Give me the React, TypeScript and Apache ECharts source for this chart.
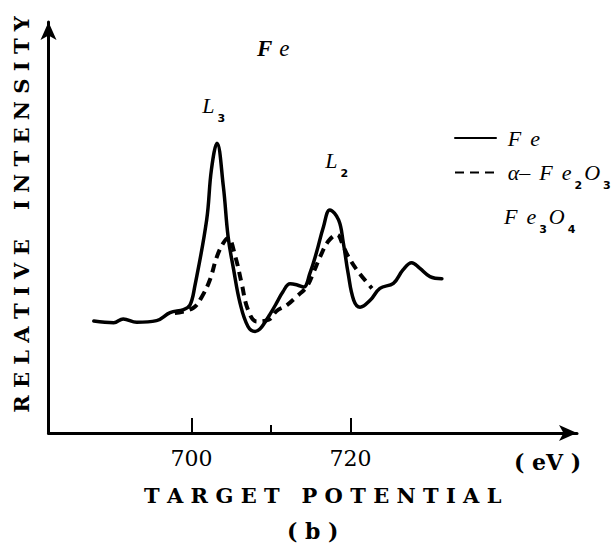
import React, { useEffect, useRef } from 'react';
import * as echarts from 'echarts';

// Fe (solid) spectrum: target potential (eV) vs relative intensity (arb. units)
const feEnergy = [
  687.7, 690.2, 691.4, 693.1, 695.6, 697.3, 699.0, 699.8, 700.4, 701.9, 702.5, 703.2,
  704.0, 704.6, 705.3, 706.1, 707.1, 708.0, 708.6, 709.2, 709.9, 710.7, 711.5, 712.4,
  713.3, 714.1, 714.9, 715.7, 716.6, 717.4, 718.5, 719.1, 719.7, 720.4, 721.2, 722.5,
  723.7, 725.4, 726.6, 727.7, 728.7, 730.0, 731.5,
];
const feIntensity = [
  26.7, 26.3, 27.2, 26.4, 26.8, 28.7, 29.4, 30.5, 34.9, 50.8, 62.8, 69.1,
  58.8, 46.8, 38.9, 31.0, 25.4, 24.2, 24.8, 26.3, 28.4, 31.0, 33.7, 35.6,
  35.3, 34.8, 38.1, 42.9, 49.2, 53.2, 50.8, 45.3, 38.1, 31.7, 30.0, 31.7,
  34.5, 35.7, 38.9, 40.6, 39.3, 37.3, 36.8,
];

// α-Fe2O3 / Fe3O4 (dashed) spectrum
const oxEnergy = [
  697.9, 700.2, 701.3, 702.3, 703.2, 704.0, 704.6, 705.5, 706.3, 707.1, 708.2, 709.7,
  710.7, 712.0, 713.2, 714.5, 715.3, 716.2, 717.2, 718.3, 719.1, 719.6, 720.8, 722.7,
];
const oxIntensity = [
  28.6, 29.8, 32.5, 36.5, 42.1, 45.3, 46.5, 42.1, 35.7, 29.4, 26.6, 27.0,
  29.1, 30.5, 32.5, 34.9, 38.1, 42.1, 45.7, 47.3, 44.5, 42.5, 38.9, 34.5,
];

const seriesNames = ['Fe', 'α-Fe2O3'];
const xLabelValues = [700, 720];
const xMajorTicks = [700, 720];
const xMinorTicks = [710];
const peakLabels = [
  { name: 'L3', coord: [702.9, 78.2] },
  { name: 'L2', coord: [718.4, 64.9] },
];

const SERIF = 'DejaVu Serif';
const ITALIC = 'Liberation Serif';

const richStyles: any = {
  m: { fontFamily: ITALIC, fontStyle: 'italic', fontSize: 22, lineHeight: 24, color: '#000' },
  mg: { fontFamily: ITALIC, fontStyle: 'italic', fontSize: 22, lineHeight: 24, color: '#000', padding: [0, 0, 0, 9] },
  big: { fontFamily: ITALIC, fontStyle: 'italic', fontWeight: 'bold', fontSize: 23, lineHeight: 24, color: '#000' },
  bigg: { fontFamily: ITALIC, fontStyle: 'italic', fontWeight: 'normal', fontSize: 23, lineHeight: 24, color: '#000', padding: [0, 0, 0, 7] },
  s: { fontFamily: 'DejaVu Sans', fontWeight: 'bold', fontSize: 11, lineHeight: 12, color: '#000', padding: [26, 2, 0, 3] },
  p: { fontSize: 10, padding: [0, 0, 0, 4] },
};

const richName: Record<string, string> = {
  'Fe': '{p| }{m|F}{mg|e}',
  'α-Fe2O3': '{p| }{m|α–}{mg|F}{mg|e}{s|2}{m|O}{s|3}',
  'L3': '{m|L}{s|3}',
  'L2': '{m|L}{s|2}',
};

export default function App() {
  const ref = useRef<HTMLDivElement>(null);
  useEffect(() => {
    if (!ref.current) return;
    const chart = echarts.init(ref.current, null, { renderer: 'svg' });
    const feData = feEnergy.map((e, i) => [e, feIntensity[i]]);
    const oxData = oxEnergy.map((e, i) => [e, oxIntensity[i]]);
    const axisLine = {
      show: true,
      symbol: ['none', 'arrow'],
      symbolSize: [12, 18],
      lineStyle: { color: '#000', width: 3 },
    };
    chart.setOption({
      animation: false,
      backgroundColor: '#fff',
      title: {
        text: '{big|F}{bigg|e}',
        left: 252,
        top: 31,
        textStyle: { rich: richStyles },
      },
      grid: { left: 48.5, right: 37, top: 22, bottom: 114 },
      legend: {
        orient: 'vertical',
        left: 454,
        top: 127,
        padding: 0,
        itemGap: 5,
        itemWidth: 41,
        itemHeight: 14,
        data: seriesNames,
        itemStyle: { opacity: 0 },
        formatter: (name: string) => richName[name] || name,
        textStyle: { rich: richStyles },
      },
      xAxis: [
        {
          type: 'value',
          min: 682,
          max: 748.5,
          position: 'bottom',
          axisLine,
          splitLine: { show: false },
          axisTick: {
            show: true,
            inside: true,
            length: 15,
            customValues: xMajorTicks,
            lineStyle: { color: '#000', width: 2 },
          },
          axisLabel: {
            show: true,
            customValues: xLabelValues,
            margin: 14,
            fontFamily: SERIF,
            fontSize: 22,
            color: '#000',
          },
          name: 'T A R G E T   P O T E N T I A L',
          nameLocation: 'middle',
          nameGap: 52,
          nameTextStyle: {
            fontFamily: SERIF,
            fontWeight: 'bold',
            fontSize: 21,
            color: '#000',
            padding: [0, 0, 0, 20],
          },
        },
        {
          type: 'value',
          min: 682,
          max: 748.5,
          position: 'bottom',
          offset: 0,
          axisLine: { show: false },
          splitLine: { show: false },
          axisLabel: { show: false },
          axisTick: {
            show: true,
            inside: true,
            length: 8,
            customValues: xMinorTicks,
            lineStyle: { color: '#000', width: 2 },
          },
        },
      ],
      yAxis: {
        type: 'value',
        min: 0,
        max: 98,
        axisLine,
        splitLine: { show: false },
        axisTick: { show: false },
        axisLabel: { show: false },
        name: 'R E L A T I V E    I N T E N S I T Y',
        nameLocation: 'middle',
        nameRotate: 90,
        nameGap: 17,
        nameTextStyle: {
          fontFamily: SERIF,
          fontWeight: 'bold',
          fontSize: 21,
          color: '#000',
          padding: [0, 0, 0, 26],
        },
      },
      series: [
        {
          name: seriesNames[0],
          type: 'line',
          data: feData,
          smooth: 0.4,
          symbol: 'none',
          lineStyle: { color: '#000', width: 3.5, cap: 'round', join: 'round' },
          itemStyle: { color: '#000' },
          markPoint: {
            symbol: 'circle',
            symbolSize: 1,
            itemStyle: { color: 'rgba(0,0,0,0)' },
            label: {
              show: true,
              position: 'inside',
              formatter: (p: any) => richName[p.name] || p.name,
              rich: richStyles,
            },
            data: peakLabels.map((l) => ({ name: l.name, coord: l.coord })),
          },
        },
        {
          name: seriesNames[1],
          type: 'line',
          data: oxData,
          smooth: 0.4,
          symbol: 'none',
          lineStyle: { color: '#000', width: 4, type: [9, 6] },
          itemStyle: { color: '#000' },
        },
      ],
      graphic: [
        {
          type: 'text',
          left: 504,
          top: 198,
          style: { text: '{m|F}{mg|e}{s|3}{m|O}{s|4}', rich: richStyles },
        },
        {
          type: 'text',
          left: 514,
          top: 451,
          style: { text: '( eV )', fontFamily: SERIF, fontWeight: 'bold', fontSize: 22, fill: '#000' },
        },
        {
          type: 'text',
          left: 287,
          top: 520,
          style: { text: '( b )', fontFamily: SERIF, fontWeight: 'bold', fontSize: 22, fill: '#000' },
        },
      ],
    });
    return () => chart.dispose();
  }, []);
  return (
    <div
      ref={ref}
      style={{ position: 'fixed', left: 0, top: 0, width: 614, height: 547, background: '#fff' }}
    />
  );
}
